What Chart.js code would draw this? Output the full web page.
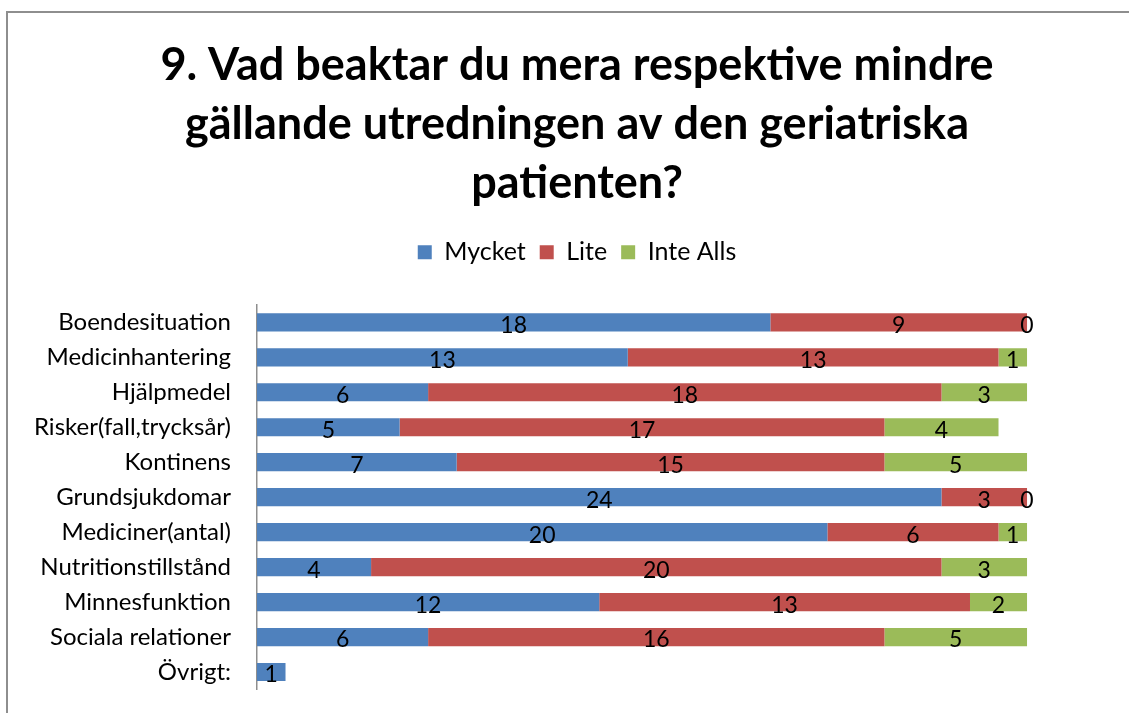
<!DOCTYPE html>
<html>
<head>
<meta charset="utf-8">
<script src="https://cdn.jsdelivr.net/npm/chart.js@4/dist/chart.umd.min.js"></script>
<style>
    html, body { margin: 0; padding: 0; background: #fff; overflow: hidden; }
    #frame {
        position: absolute;
        left: 6px;
        top: 11px;
        width: 1200px;
        height: 800px;
        border-left: 2px solid #8e8e8e;
        border-top: 2px solid #8e8e8e;
    }
    #wrap { position: absolute; left: 0; top: 0; width: 1129px; height: 713px; }
</style>
</head>
<body>
<div id="frame"></div>
<div id="wrap"><canvas id="chart" width="1129" height="713"></canvas></div>
<script>
const categories = [
    'Boendesituation',
    'Medicinhantering',
    'Hjälpmedel',
    'Risker(fall,trycksår)',
    'Kontinens',
    'Grundsjukdomar',
    'Mediciner(antal)',
    'Nutritionstillstånd',
    'Minnesfunktion',
    'Sociala relationer',
    'Övrigt:'
];
const mycket = [18, 13, 6, 5, 7, 24, 20, 4, 12, 6, 1];
const lite = [9, 13, 18, 17, 15, 3, 6, 20, 13, 16, null];
const inteAlls = [0, 1, 3, 4, 5, 0, 1, 3, 2, 5, null];

const titleLines = [
    '9. Vad beaktar du mera respektive mindre',
    'gällande utredningen av den geriatriska',
    'patienten?'
];

const fontFamily = 'Lato, "Open Sans", sans-serif';

// Draw the value of every segment in its middle (Excel style)
const valueLabels = {
    id: 'valueLabels',
    afterDatasetsDraw(chart) {
        const ctx = chart.ctx;
        ctx.save();
        ctx.font = '23px ' + fontFamily;
        ctx.fillStyle = '#000';
        ctx.textAlign = 'center';
        ctx.textBaseline = 'middle';
        chart.data.datasets.forEach((ds, i) => {
            const meta = chart.getDatasetMeta(i);
            meta.data.forEach((bar, j) => {
                const v = ds.data[j];
                if (v === null || v === undefined) return;
                const x = (bar.x + bar.base) / 2;
                ctx.fillText(String(v), x, bar.y + 3);
            });
        });
        ctx.restore();
    }
};

// Extra room below the legend, like the original
const legendGap = {
    id: 'legendGap',
    beforeInit(chart) {
        const fit = chart.legend.fit;
        chart.legend.fit = function () {
            fit.bind(chart.legend)();
            this.height += 30;
        };
    }
};

const ctx = document.getElementById('chart').getContext('2d');
const chart = new Chart(ctx, {
    type: 'bar',
    data: {
        labels: categories,
        datasets: [
            { label: 'Mycket', data: mycket, backgroundColor: '#4F81BD' },
            { label: 'Lite', data: lite, backgroundColor: '#C0504D' },
            { label: 'Inte Alls', data: inteAlls, backgroundColor: '#9BBB59' }
        ]
    },
    options: {
        indexAxis: 'y',
        responsive: false,
        animation: false,
        datasets: {
            bar: { barPercentage: 0.52, categoryPercentage: 1 }
        },
        layout: {
            padding: { left: 30, right: 5, top: 0, bottom: 23.5 }
        },
        scales: {
            x: {
                stacked: true,
                display: false,
                min: 0,
                max: 30.4
            },
            y: {
                stacked: true,
                afterFit(scale) { scale.width = 227; },
                grid: {
                    display: true,
                    drawOnChartArea: false,
                    drawTicks: true,
                    tickLength: 26,
                    tickColor: 'rgba(0,0,0,0)'
                },
                border: { display: true, color: '#8e8e8e', width: 1.5 },
                ticks: {
                    color: '#000',
                    padding: 0,
                    font: { family: fontFamily, size: 24 }
                }
            }
        },
        plugins: {
            title: {
                display: true,
                text: titleLines,
                color: '#000',
                padding: { top: 36, bottom: 13 },
                font: { family: fontFamily, size: 45, weight: 'bold', lineHeight: 1.31 }
            },
            legend: {
                display: true,
                position: 'top',
                labels: {
                    color: '#000',
                    boxWidth: 14,
                    boxHeight: 14,
                    padding: 14,
                    font: { family: fontFamily, size: 25 }
                }
            },
            tooltip: { enabled: false }
        }
    },
    plugins: [valueLabels, legendGap]
});
</script>
</body>
</html>
